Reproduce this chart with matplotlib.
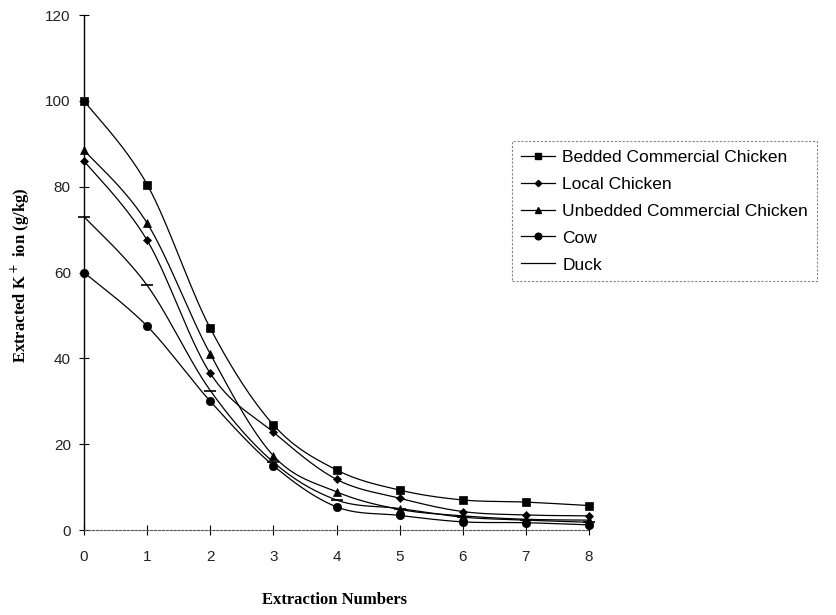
import numpy as np
import matplotlib
matplotlib.use("Agg")
import matplotlib.pyplot as plt

extractions = [0, 1, 2, 3, 4, 5, 6, 7, 8]
bedded = [100, 80.5, 47, 24.5, 14, 9.3, 7, 6.5, 5.7]
local = [86, 67.5, 36.5, 22.8, 11.8, 7.4, 4.3, 3.5, 3.3]
unbedded = [88.5, 71.5, 41, 17.3, 8.9, 4.8, 3.3, 2.5, 2.3]
cow = [60, 47.5, 30, 15, 5.4, 3.4, 1.9, 1.7, 1.2]
duck = [73, 57, 32.5, 15.8, 7, 5, 3, 2.3, 1.8]
labels = ["Bedded Commercial Chicken", "Local Chicken",
          "Unbedded Commercial Chicken", "Cow", "Duck"]
yticks = [0, 20, 40, 60, 80, 100, 120]


def smooth(x, y, n=30):
    x = np.asarray(x, float)
    y = np.asarray(y, float)
    P = np.column_stack([x, y])
    out = []
    for i in range(len(P) - 1):
        p0 = P[i - 1] if i > 0 else P[i]
        p1 = P[i]
        p2 = P[i + 1]
        p3 = P[i + 2] if i + 2 < len(P) else P[i + 1]
        c1 = p1 + (p2 - p0) / 6.0
        c2 = p2 - (p3 - p1) / 6.0
        t = np.linspace(0, 1, n)[:, None]
        seg = ((1 - t) ** 3) * p1 + 3 * ((1 - t) ** 2) * t * c1 + 3 * (1 - t) * t ** 2 * c2 + t ** 3 * p2
        out.append(seg if i == 0 else seg[1:])
    s = np.vstack(out)
    return s[:, 0], s[:, 1]


fig = plt.figure(figsize=(8.37, 6.15), dpi=100)
ax = fig.add_axes([0.1004, 0.1382, 0.6033, 0.8374])

series = [bedded, local, unbedded, cow, duck]
markers = ["s", "D", "^", "o", "_"]
msizes = [6, 4, 6, 6, 8]
handles = []
for vals, m, ms, lab in zip(series, markers, msizes, labels):
    sx, sy = smooth(extractions, vals)
    ax.plot(sx, sy, color="black", lw=0.9, clip_on=False)
    ax.plot(extractions, vals, linestyle="none", marker=m, markersize=ms,
            color="black", markeredgewidth=1.2 if m == "_" else 0.5, clip_on=False)
    h, = ax.plot([], [], color="black", lw=0.9,
                 marker=(m if m != "_" else None), markersize=ms * 0.8)
    handles.append(h)

ax.set_xlim(0, 8)
ax.set_ylim(0, 120)
ax.set_xticks(extractions)
ax.set_yticks(yticks)
for s in ["top", "right"]:
    ax.spines[s].set_visible(False)
ax.spines["left"].set_linewidth(1.0)
ax.spines["bottom"].set_linestyle((0, (2, 1.5)))
ax.spines["bottom"].set_color("#555555")
ax.spines["bottom"].set_linewidth(0.8)
ax.tick_params(axis="both", direction="inout", length=7, width=0.8,
               labelsize=11)
ax.tick_params(axis="y", pad=6)
ax.tick_params(axis="x", pad=11)
for t in ax.get_xticklabels() + ax.get_yticklabels():
    t.set_family("Liberation Sans")
    t.set_color("#222222")

fig.text(0.40, 0.024, "Extraction Numbers", ha="center", va="center",
         family="Liberation Serif", fontweight="bold", fontsize=12)
fig.text(0.024, 0.553, "Extracted K$^+$ ion (g/kg)", ha="center", va="center",
         rotation=90, family="Liberation Serif", fontweight="bold", fontsize=12)

leg = fig.legend(handles, labels, loc="upper left",
                 bbox_to_anchor=(0.6117, 0.771), frameon=True, fancybox=False,
                 prop={"family": "Liberation Sans", "size": 12.5},
                 handlelength=2.0, handletextpad=0.4, labelspacing=0.68,
                 borderpad=0.5, borderaxespad=0.0)
fr = leg.get_frame()
fr.set_edgecolor("#666666")
fr.set_linewidth(0.8)
fr.set_linestyle((0, (2, 1.5)))

fig.savefig("out.png", dpi=100)
